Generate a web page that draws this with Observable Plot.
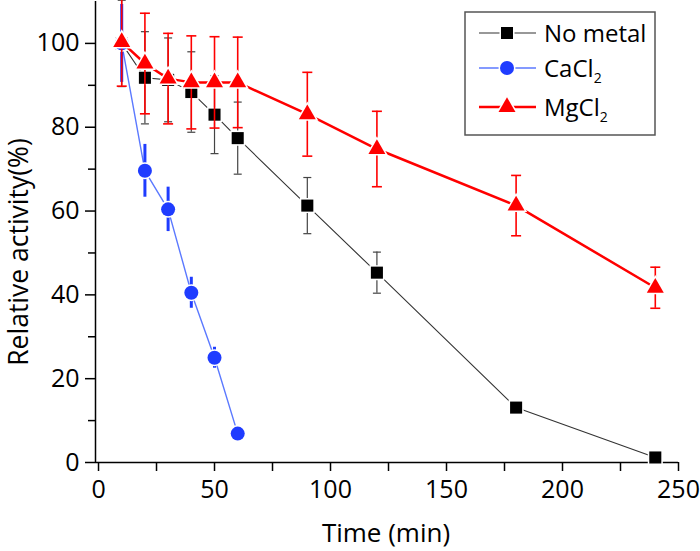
<!DOCTYPE html>
<html>
<head>
<meta charset="utf-8">
<script src="https://cdn.jsdelivr.net/npm/d3@7"></script>
<script src="https://cdn.jsdelivr.net/npm/@observablehq/plot@0.6"></script>
<style>
  html, body { margin: 0; padding: 0; background: #fff; }
  #chart { width: 700px; height: 551px; }
  #chart svg { font-family: 'Open Sans', sans-serif; }
</style>
</head>
<body>
<div id="chart"></div>
<script>
// ---- data ----
const seriesNames = ["No metal", "CaCl", "MgCl"];   // subscript "2" added in legend
const timeNoMetal = [10, 20, 30, 40, 50, 60, 90, 120, 180, 240];
const noMetal     = [100, 91.8, 91.3, 88.4, 83, 77.4, 61.3, 45.3, 13.1, 1.2];
const noMetalErr  = [10.3, 11, 10, 9.6, 9.3, 8.6, 6.7, 4.9, 0.8, 0.8];

const timeCaCl2 = [10, 20, 30, 40, 50, 60];
const caCl2     = [100, 69.6, 60.4, 40.5, 25, 6.9];
const caCl2Err  = [9.3, 6.3, 5.3, 3.7, 2.5, 0.8];

const timeMgCl2 = [10, 20, 30, 40, 50, 60, 90, 120, 180, 240];
const mgCl2     = [100.3, 95.2, 91.6, 90.7, 90.7, 90.7, 83.1, 74.8, 61.3, 41.7];
const mgCl2Err  = [10.5, 12, 10.8, 11.1, 10.9, 10.8, 10, 9, 7.2, 4.9];

const xMajor = [0, 50, 100, 150, 200, 250];
const xMinor = [25, 75, 125, 175, 225];
const yMajor = [0, 20, 40, 60, 80, 100];
const yMinor = [10, 30, 50, 70, 90];
const xDomain = [-1.3, 250];
const yDomain = [0, 110];
const xLabel = "Time (min)";
const yLabel = "Relative activity(%)";

// ---- build tables ----
const rows = (ts, vs, es) => ts.map((t, i) => ({t, v: vs[i], e: es[i]}));
const dNone = rows(timeNoMetal, noMetal, noMetalErr);
const dCa = rows(timeCaCl2, caCl2, caCl2Err);
const dMg = rows(timeMgCl2, mgCl2, mgCl2Err);

const capSymbol = {
  draw(ctx, size) {
    const r = Math.sqrt(size / Math.PI);
    ctx.moveTo(-r, 0);
    ctx.lineTo(r, 0);
  }
};

function seriesMarks(data, o) {
  const m = [
    Plot.line(data, {x: "t", y: "v", stroke: o.line, strokeWidth: o.lw}),
    Plot.ruleX(data, {x: "t", y1: d => d.v - d.e, y2: d => d.v + d.e, stroke: o.bar, strokeWidth: o.bw})
  ];
  if (o.cap) {
    m.push(Plot.dot(data, {x: "t", y: d => d.v + d.e, symbol: capSymbol, r: o.cap, fill: "none", stroke: o.bar, strokeWidth: o.bw}));
    m.push(Plot.dot(data, {x: "t", y: d => d.v - d.e, symbol: capSymbol, r: o.cap, fill: "none", stroke: o.bar, strokeWidth: o.bw}));
  }
  m.push(Plot.dot(data, {x: "t", y: "v", symbol: o.symbol, r: o.r, fill: o.fill, stroke: "white", strokeWidth: 3, paintOrder: "stroke"}));
  return m;
}

const styles = [
  {line: "#333", lw: 1.1, bar: "#444", bw: 1.2, cap: 4, symbol: "square", r: 6.8, fill: "#000"},
  {line: "#5b79ff", lw: 1.4, bar: "#1f3cff", bw: 3, cap: 0, symbol: "circle", r: 7, fill: "#1f3cff"},
  {line: "#ff0000", lw: 2.5, bar: "#ff0000", bw: 1.6, cap: 5, symbol: "triangle", r: 6.3, fill: "#ff0000"}
];

const chart = Plot.plot({
  width: 700,
  height: 551,
  marginLeft: 95,
  marginRight: 22,
  marginTop: 1,
  marginBottom: 89,
  style: {fontFamily: "'Open Sans', sans-serif", color: "#000", background: "#fff"},
  x: {domain: xDomain},
  y: {domain: yDomain},
  marks: [
    Plot.axisY({ticks: yMajor, tickSize: 10, tickPadding: 6, strokeWidth: 1.5, fontSize: 25, label: null}),
    Plot.axisY({ticks: yMinor, tickSize: 7, strokeWidth: 1.5, tickFormat: () => "", label: null}),
    Plot.axisX({ticks: xMajor, tickSize: 9, tickPadding: 9, strokeWidth: 1.5, fontSize: 25, label: null}),
    Plot.axisX({ticks: xMinor, tickSize: 9, strokeWidth: 1.5, tickFormat: () => "", label: null}),
    Plot.ruleX([xDomain[0]], {strokeWidth: 1.5}),
    Plot.ruleY([yDomain[0]], {strokeWidth: 1.5}),
    Plot.text([yLabel], {text: d => d, frameAnchor: "left", rotate: -90, dx: -86, dy: 20,
      lineAnchor: "top", textAnchor: "middle", fontSize: 26.5, fill: "#000"}),
    Plot.text([xLabel], {text: d => d, frameAnchor: "bottom", dy: 61, dx: -1,
      lineAnchor: "top", textAnchor: "middle", fontSize: 26, fill: "#000"}),
    ...seriesMarks(dNone, styles[0]),
    ...seriesMarks(dCa, styles[1]),
    ...seriesMarks(dMg, styles[2])
  ]
});

// ---- legend (drawn inside the plot area) ----
const svg = d3.select(chart);
const lg = svg.append("g").style("font-family", "'Open Sans', sans-serif").style("font-size", "24px")
  .attr("text-anchor", "start");
const box = {x: 465, y: 12, w: 190, h: 123};
lg.append("rect").attr("x", box.x).attr("y", box.y).attr("width", box.w).attr("height", box.h)
  .attr("fill", "#fff").attr("stroke", "#555").attr("stroke-width", 1.5);
const rowY = [33, 68, 107];
const symMap = {square: d3.symbolSquare, circle: d3.symbolCircle, triangle: d3.symbolTriangle};
seriesNames.forEach((name, i) => {
  const s = styles[i], y = rowY[i];
  lg.append("line").attr("x1", 479).attr("x2", 536).attr("y1", y).attr("y2", y)
    .attr("stroke", s.line).attr("stroke-width", s.lw);
  lg.append("path").attr("transform", `translate(507,${y})`)
    .attr("d", d3.symbol(symMap[s.symbol], Math.PI * s.r * s.r)())
    .attr("fill", s.fill).attr("stroke", "white").attr("stroke-width", 3).attr("paint-order", "stroke");
  const t = lg.append("text").attr("x", 544).attr("y", y + 8.5).attr("fill", "#000")
    .attr("text-anchor", "start").text(name);
  if (i > 0) t.append("tspan").style("font-size", "14px").attr("dy", 6).text("2");
});

document.getElementById("chart").appendChild(chart);
</script>
</body>
</html>
